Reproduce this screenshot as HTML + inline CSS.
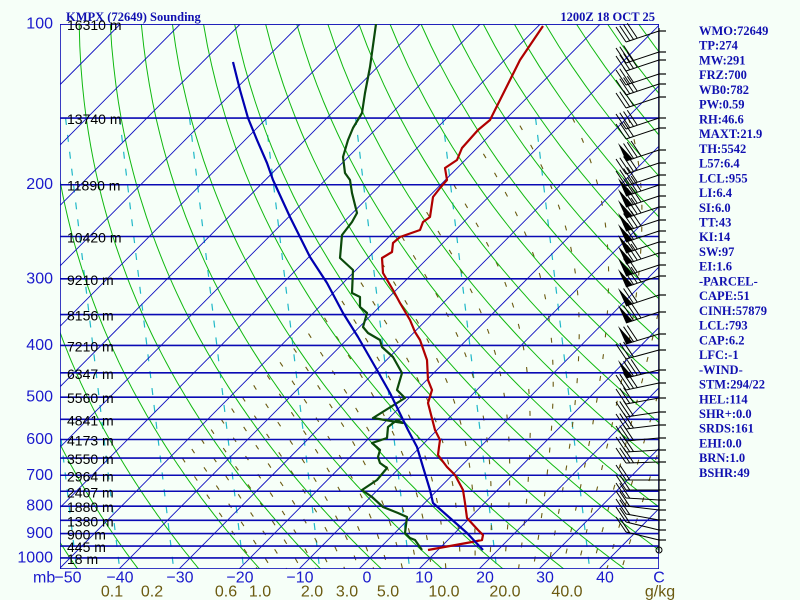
<!DOCTYPE html>
<html><head><meta charset="utf-8"><style>
html,body{margin:0;padding:0;background:#f6fff8;}
svg{display:block;}
.rt{font-family:"Liberation Serif",serif;font-weight:bold;font-size:12.5px;fill:#1010b0;}
.pl{font-family:"Liberation Sans",sans-serif;font-size:16px;fill:#1a1acc;}
.hl{font-family:"Liberation Sans",sans-serif;font-size:14px;fill:#000;}
.ml{font-family:"Liberation Sans",sans-serif;font-size:16px;fill:#6b5a10;}
</style></head><body>
<svg id="s" width="800" height="600" xmlns="http://www.w3.org/2000/svg">
<rect width="800" height="600" fill="#f6fff8"/>
<defs><clipPath id="c"><rect x="60" y="24" width="599" height="545"/></clipPath></defs>
<g id="grid" clip-path="url(#c)"></g>
<g id="traces" clip-path="url(#c)"></g>
<g id="wind"></g>
<g id="txt"></g>
</svg>
<script>
var NS="http://www.w3.org/2000/svg";
function el(t,a,p){var e=document.createElementNS(NS,t);for(var k in a)e.setAttribute(k,a[k]);(p||document.getElementById('grid')).appendChild(e);return e;}
function Y(p){return 24+231.9*Math.log(p/100);}
function X(T,p){return 370+6*T+0.993*(558-Y(p));}
var g=document.getElementById('grid');
// cyan dashed lines
[60,103,157,227,303,393,480,573].forEach(function(x0){
  var y1=118,y2=569;
  el('line',{x1:x0+0.12*(y1-430),y1:y1,x2:x0+0.12*(y2-430),y2:y2,stroke:'#20b8c8','stroke-width':1.2,'stroke-dasharray':'7 10'});
});
// moist adiabats
function es(T){return 6.112*Math.exp(17.67*T/(T+243.5));}
function rs(T,p){var e=es(T);return 0.622*e/(p-e);}
function dTdp(T,p){var Tk=T+273.15,r=rs(T,p),Rd=287,cp=1005,L=2.5e6;
 return (Rd*Tk+L*r)/(p*(cp+L*L*r*0.622/(Rd*Tk*Tk)));}
for(var tw=-20;tw<=44;tw+=2.5){
 var pts=[];var T=tw,p;
 var T2=tw;for(p=1000;p<1050;p+=5){T2+=dTdp(T2,p)*5;}
 pts.push([X(T2,1050),Y(1050),T2]);
 for(p=1000;p>=150;p-=5){ if(p<1000)T-=dTdp(T,p)*5; pts.push([X(T,p),Y(p),T]); }
 pts.reverse();
 var d='',started=false;
 pts.forEach(function(q){ if(q[2]>-48){d+=(started?'L':'M')+q[0].toFixed(1)+' '+q[1].toFixed(1);started=true;} });
 if(d)el('path',{d:d,fill:'none',stroke:'#6b5a10','stroke-width':1.1,'stroke-dasharray':'5 17'});
}
// dry adiabats
for(var th=-50;th<=220;th+=10){
 var d='';for(var p=1050;p>=100;p-=10){var T=(th+273.15)*Math.pow(p/1000,0.2857)-273.15;d+=(p==1050?'M':'L')+X(T,p).toFixed(1)+' '+Y(p).toFixed(1);}
 el('path',{d:d,fill:'none',stroke:'#10b810','stroke-width':1});
}
// isotherms
for(var T=-160;T<=50;T+=10){el('line',{x1:X(T,1050),y1:Y(1050),x2:X(T,100),y2:Y(100),stroke:'#1010c0','stroke-width':0.9});}
// pressure lines
[100,150,200,250,300,350,400,450,500,550,600,650,700,750,800,850,900,950,1000].forEach(function(p){
 el('line',{x1:60,y1:Y(p),x2:659,y2:Y(p),stroke:'#0a0ab4','stroke-width':1.6});});
var tr=document.getElementById('traces');
function pl(pts,c,w){el('polyline',{points:pts,fill:'none',stroke:c,'stroke-width':w,'stroke-linejoin':'round'},tr);}
pl("543,26 520,60 505,90 495,110 490,120 478,130 462,148 457,160 445,168 447,180 440,188 433,197 430,217 423,222 420,230 400,237 393,243 392,252 382,258 383,273 393,290 400,303 410,320 415,332 420,340 427,360 428,380 432,390 428,403 435,430 440,440 439,447 438,455 447,467 455,475 463,490 465,503 467,518 478,530 483,535 482,540 472,542 428,550","#b00000",2.2);
pl("376,24 370,67 365,93 362,113 353,128 348,140 343,157 345,173 350,180 352,193 357,213 352,222 342,235 340,258 353,270 352,293 360,297 360,307 367,313 363,327 368,333 380,340 382,347 393,357 402,373 397,390 405,398 373,418 403,423 397,420 388,427 387,438 372,443 380,450 378,457 380,463 387,468 377,480 362,490 372,497 383,507 398,513 407,517 405,533 410,538 415,540 422,550","#0b4a0b",2.2);
pl("233,62 240,90 248,118 257,140 267,163 273,180 290,217 310,257 327,283 343,313 358,337 377,370 390,393 408,430 417,447 423,467 430,490 433,503 450,518 467,533 483,550","#0000b0",2.2);
el('rect',{x:60,y:24,width:599,height:545,fill:'none',stroke:'#0a0ab4','stroke-width':1.6});
// wind
var w=document.getElementById('wind');
el('line',{x1:659,y1:28,x2:659,y2:552,stroke:'#000','stroke-width':1.2},w);
var lv=[[31,4,0,11],[52,3,0,11],[60,4,0,11],[74,3,0,11],[84,4,0,11],[97,3,0,11],[118,4,0,11],[128,3,0,11],[150,3,1,11],[163,4,0,11],[175,4,0,11],[185,3,1,11],[196,3,1,11],[207,3,1,11],[220,3,1,11],[231,2,1,11],[242,2,1,11],[253,3,1,11],[265,2,1,11],[276,3,1,11],[295,2,1,11],[312,3,1,11],[334,2,1,10],[350,3,0,9],[370,3,1,8],[383,4,0,7],[398,3,0,6],[412,3,0,5],[425,3,0,4],[438,3,0,3],[450,3,0,2],[462,3,0,1],[480,2,0,0],[490,2,0,0],[500,2,0,-2],[510,2,0,-4],[520,2,0,-6],[530,2,0,-8],[540,2,0,-8]];
lv.forEach(function(l){
 var y=l[0],nb=l[1],nf=l[2],dy=l[3];
 el('line',{x1:659,y1:y,x2:666,y2:y,stroke:'#000','stroke-width':1.2},w);
 var ex=626,ey=y+dy;
 el('line',{x1:659,y1:y,x2:ex,y2:ey,stroke:'#000','stroke-width':1},w);
 var ux=(659-ex)/35,uy=(y-ey)/35,pos=0;
 for(var i=0;i<nf;i++){var ax=ex+ux*pos,ay=ey+uy*pos,bx=ex+ux*(pos+7),by=ey+uy*(pos+7);
  el('polygon',{points:ax+','+ay+' '+bx+','+by+' '+(ax-8)+','+(ay-18),fill:'#000'},w);pos+=8;}
 for(var i=0;i<nb;i++){var ax=ex+ux*pos,ay=ey+uy*pos;
  el('line',{x1:ax,y1:ay,x2:ax-10,y2:ay-15,stroke:'#000','stroke-width':1},w);pos+=4;}
});
el('circle',{cx:659,cy:550,r:3,fill:'none',stroke:'#000'},w);
// text
var t=document.getElementById('txt');
function tx(s,x,y,c,a){var e=el('text',{x:x,y:y,'class':c,'text-anchor':a||'start','dominant-baseline':'central'},t);e.textContent=s;}
tx('KMPX (72649) Sounding',66,17,'rt');
tx('1200Z 18 OCT 25',655,17,'rt','end');
var rl=['WMO:72649','TP:274','MW:291','FRZ:700','WB0:782','PW:0.59','RH:46.6','MAXT:21.9','TH:5542','L57:6.4','LCL:955','LI:6.4','SI:6.0','TT:43','KI:14','SW:97','EI:1.6','-PARCEL-','CAPE:51','CINH:57879','LCL:793','CAP:6.2','LFC:-1','-WIND-','STM:294/22','HEL:114','SHR+:0.0','SRDS:161','EHI:0.0','BRN:1.0','BSHR:49'];
rl.forEach(function(s,i){tx(s,699,31+14.73*i,'rt');});
[100,200,300,400,500,600,700,800,900,1000].forEach(function(p){tx(String(p),53,Y(p),'pl','end');});
var hs=[[100,'16310 m'],[150,'13740 m'],[200,'11890 m'],[250,'10420 m'],[300,'9210 m'],[350,'8156 m'],[400,'7210 m'],[450,'6347 m'],[500,'5560 m'],[550,'4841 m'],[600,'4173 m'],[650,'3550 m'],[700,'2964 m'],[750,'2407 m'],[800,'1880 m'],[850,'1380 m'],[900,'900 m'],[950,'445 m'],[1000,'18 m']];
hs.forEach(function(h){tx(h[1],67,Y(h[0])+1,'hl');});
tx('mb',33,578,'pl');
[[-50,68],[-40,120],[-30,180],[-20,240],[-10,300],[0,367],[10,424],[20,485],[30,545],[40,605]].forEach(function(v){tx(v[0]<0?'\u2212'+(-v[0]):String(v[0]),v[1],578,'pl','middle');});
tx('C',659,578,'pl','middle');
[['0.1',112],['0.2',152],['0.6',226],['1.0',260],['2.0',312],['3.0',347],['5.0',388],['10.0',444],['20.0',505],['40.0',567],['g/kg',660]].forEach(function(v){tx(v[0],v[1],592,'ml','middle');});
</script>
</body></html>
